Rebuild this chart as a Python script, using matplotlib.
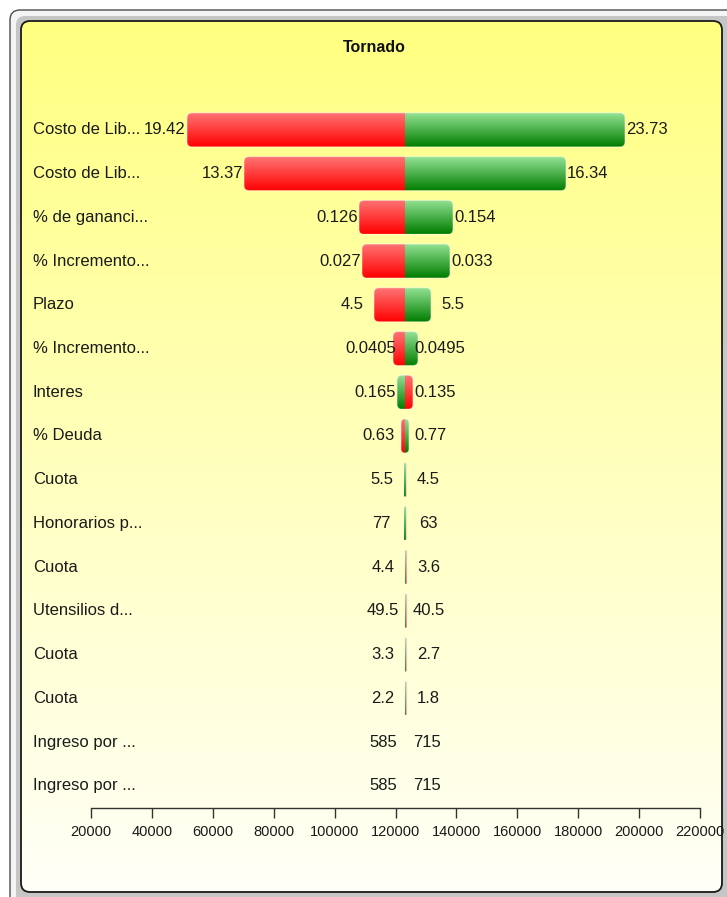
import numpy as np
import matplotlib.pyplot as plt
from matplotlib.patches import FancyBboxPatch
from matplotlib import transforms

plt.rcParams['font.family'] = ['Liberation Sans', 'DejaVu Sans']

# tornado rows, top to bottom
names = ["Costo de Lib...", "Costo de Lib...", "% de gananci...", "% Incremento...",
         "Plazo", "% Incremento...", "Interes", "% Deuda", "Cuota", "Honorarios p...",
         "Cuota", "Utensilios d...", "Cuota", "Cuota", "Ingreso por ...", "Ingreso por ..."]
low_inputs = ["19.42", "13.37", "0.126", "0.027", "4.5", "0.0405", "0.135", "0.63",
              "4.5", "63", "3.6", "40.5", "2.7", "1.8", "585", "585"]
high_inputs = ["23.73", "16.34", "0.154", "0.033", "5.5", "0.0495", "0.165", "0.77",
               "5.5", "77", "4.4", "49.5", "3.3", "2.2", "715", "715"]
# output when the input is at its low / high value
low_outputs = [51530, 70250, 108010, 108990, 112940, 119180, 125740, 121800,
               123550, 123550, 123700, 123700, 123650, 123650, 123100, 123100]
high_outputs = [195370, 175990, 138880, 137900, 131660, 127390, 120500, 124430,
                122650, 122650, 123050, 123050, 123050, 123050, 123100, 123100]
base_output = 123100
x_ticks = [20000, 40000, 60000, 80000, 100000, 120000, 140000, 160000, 180000, 200000, 220000]

W, H = 727, 897
fig = plt.figure(figsize=(W / 100, H / 100), dpi=100)
fig.patch.set_facecolor('white')

# window frame + yellow panel, drawn in pixel coordinates
bg = fig.add_axes([0, 0, 1, 1], zorder=0)
bg.axis('off')
bg.add_patch(FancyBboxPatch((10, 10), 740, 900, boxstyle='round,pad=0,rounding_size=10',
                            fc='#f4f4f4', ec='#4d4d4d', lw=1))
bg.add_patch(FancyBboxPatch((16, 16), 728, 888, boxstyle='round,pad=0,rounding_size=9',
                            fc='#c6c6c6', ec='none'))
panel = FancyBboxPatch((21, 21), 701, 871, boxstyle='round,pad=0,rounding_size=9',
                       fc='none', ec='#1a1a1a', lw=1.3, zorder=3)
bg.add_patch(panel)
t = np.linspace(0, 1, 256)[:, None, None]
top = np.array([255, 255, 128]) / 255
bottom = np.array([255, 255, 248]) / 255
panel_img = top + (bottom - top) * t
im = bg.imshow(panel_img, extent=(21, 722, 892, 21), aspect='auto', zorder=2)
im.set_clip_path(panel)
bg.set_xlim(0, W)
bg.set_ylim(H, 0)
bg.text(374, 47, 'Tornado', ha='center', va='center', fontsize=11.5, fontweight='bold', color='#111')

ax = fig.add_axes([91 / W, (H - 807.7) / H, 609 / W, 699.7 / H], zorder=1)
ax.patch.set_alpha(0)
xmin, xmax = 20000, 220000
n = len(names)
ax.set_xlim(xmin, xmax)
ax.set_ylim(n - 0.5, -0.5)

xpp = (xmax - xmin) / 609.0      # data units per pixel
ypp = 1 / 43.73                  # rows per pixel
bar_h = 34 * ypp

s = np.linspace(0, 1, 64)[:, None, None]
red_top, red_bot = np.array([255, 118, 118]) / 255, np.array([255, 0, 0]) / 255
grn_top, grn_bot = np.array([150, 228, 150]) / 255, np.array([0, 125, 0]) / 255
red_grad = red_top + (red_bot - red_top) * s
green_grad = grn_top + (grn_bot - grn_top) * s

for i in range(n):
    lo, hi = low_outputs[i], high_outputs[i]
    left = min(lo, hi, base_output)
    right = max(lo, hi, base_output)
    width = right - left
    if width > 0:
        r = min(5 * xpp, width / 2)
        clip = FancyBboxPatch((left, i - bar_h / 2), width, bar_h,
                              boxstyle=f'round,pad=0,rounding_size={r}',
                              mutation_aspect=ypp / xpp, fc='none',
                              ec=(1, 1, 1, 0.45), lw=0.8, zorder=3)
        ax.add_patch(clip)
        for val, grad in ((lo, red_grad), (hi, green_grad)):
            x0, x1 = min(val, base_output), max(val, base_output)
            if x1 > x0:
                img = ax.imshow(grad, extent=(x0, x1, i + bar_h / 2, i - bar_h / 2),
                                aspect='auto', interpolation='bilinear', zorder=2)
                img.set_clip_path(clip)

    if lo <= hi:
        ltxt, rtxt = low_inputs[i], high_inputs[i]
    else:
        ltxt, rtxt = high_inputs[i], low_inputs[i]
    ax.annotate(ltxt, (left, i), xytext=(-22, 0), textcoords='offset pixels',
                ha='center', va='center', fontsize=12, color='#1a1a1a', zorder=4)
    ax.annotate(rtxt, (right, i), xytext=(22, 0), textcoords='offset pixels',
                ha='center', va='center', fontsize=12, color='#1a1a1a', zorder=4)

# category names at the left edge of the panel
trans = transforms.blended_transform_factory(fig.transFigure, ax.transData)
for i, name in enumerate(names):
    ax.text(33 / W, i, name, transform=trans, ha='left', va='center',
            fontsize=12, color='#1a1a1a', clip_on=False)

ax.set_xlim(xmin, xmax)
ax.set_ylim(n - 0.5, -0.5)
ax.set_xticks(x_ticks)
ax.set_xticklabels([str(v) for v in x_ticks], fontsize=10.5, color='#1a1a1a')
ax.set_yticks([])
ax.tick_params(axis='x', direction='out', length=7.5, width=1, color='#333', pad=5)
for side in ['top', 'left', 'right']:
    ax.spines[side].set_visible(False)
ax.spines['bottom'].set_color('#333')
ax.spines['bottom'].set_linewidth(1)

fig.savefig('out.png', dpi=100)
